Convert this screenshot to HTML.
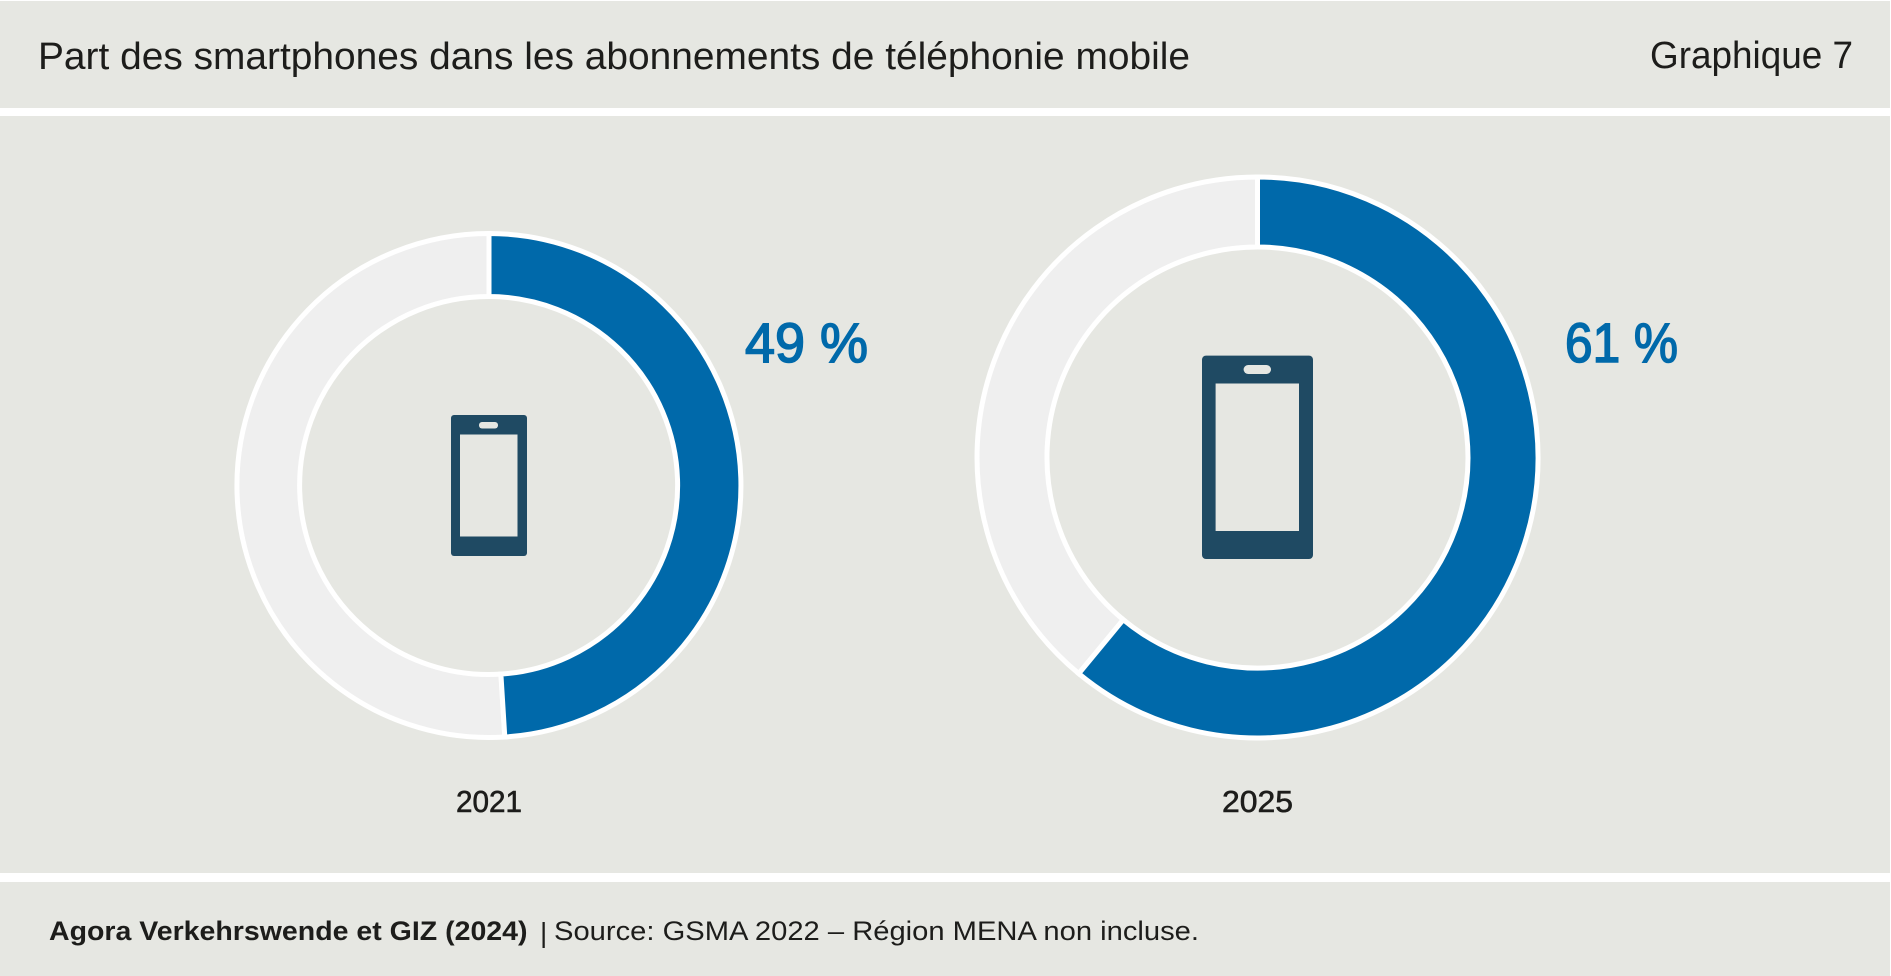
<!DOCTYPE html>
<html>
<head>
<meta charset="utf-8">
<style>
html,body{margin:0;padding:0;background:#ffffff;}
svg{display:block;}
text{font-family:"Liberation Sans", sans-serif;}
</style>
</head>
<body>
<svg width="1891" height="976" viewBox="0 0 1891 976" xmlns="http://www.w3.org/2000/svg">
  <rect x="0" y="0" width="1891" height="976" fill="#ffffff"/>
  <!-- panels -->
  <rect x="0" y="1" width="1890" height="107" fill="#e6e7e2"/>
  <rect x="0" y="116" width="1890" height="757" fill="#e6e7e2"/>
  <rect x="0" y="882" width="1890" height="94" fill="#e6e7e2"/>

  <!-- header -->
  <text x="38" y="69" font-size="38" fill="#1d1d1b" textLength="1152" lengthAdjust="spacingAndGlyphs">Part des smartphones dans les abonnements de téléphonie mobile</text>
  <text x="1650" y="68" font-size="38" fill="#1d1d1b" textLength="203" lengthAdjust="spacingAndGlyphs">Graphique 7</text>

  <!-- donut 1 (49%) -->
  <path d="M504.8,737.0 A252,252 0 1 1 489,233.5 L489,296.5 A189,189 0 1 0 500.9,674.1 Z" fill="#efefef" stroke="#ffffff" stroke-width="5" stroke-linejoin="miter"/>
  <path d="M489,233.5 A252,252 0 0 1 504.8,737.0 L500.9,674.1 A189,189 0 0 0 489,296.5 Z" fill="#0069aa" stroke="#ffffff" stroke-width="5" stroke-linejoin="miter"/>

  <!-- phone 1 -->
  <rect x="451" y="415" width="76" height="141" rx="3" fill="#1f4a63"/>
  <rect x="460" y="434.5" width="57.5" height="102" fill="#e6e7e2"/>
  <rect x="479" y="422" width="19" height="6.5" rx="3" fill="#e6e7e2"/>

  <!-- donut 2 (61%) -->
  <path d="M1078.7,673.6 A280.5,280.5 0 0 1 1257.5,177 L1257.5,247 A210.5,210.5 0 0 0 1123.3,619.7 Z" fill="#efefef" stroke="#ffffff" stroke-width="5" stroke-linejoin="miter"/>
  <path d="M1257.5,177 A280.5,280.5 0 1 1 1078.7,673.6 L1123.3,619.7 A210.5,210.5 0 1 0 1257.5,247 Z" fill="#0069aa" stroke="#ffffff" stroke-width="5" stroke-linejoin="miter"/>

  <!-- phone 2 -->
  <rect x="1202" y="355.6" width="111" height="203.4" rx="4" fill="#1f4a63"/>
  <rect x="1215.6" y="383.5" width="83.4" height="147.5" fill="#e6e7e2"/>
  <rect x="1243.6" y="365" width="27.4" height="9" rx="4.5" fill="#e6e7e2"/>

  <!-- value labels -->
  <text x="745" y="362" font-size="56" fill="#0069aa" stroke="#0069aa" stroke-width="1.6" textLength="123" lengthAdjust="spacingAndGlyphs">49 %</text>
  <text x="1565" y="362" font-size="56" fill="#0069aa" stroke="#0069aa" stroke-width="1.6" textLength="113" lengthAdjust="spacingAndGlyphs">61 %</text>

  <!-- year labels -->
  <text x="456" y="812" font-size="31" fill="#1d1d1b" stroke="#1d1d1b" stroke-width="0.6" textLength="66" lengthAdjust="spacingAndGlyphs">2021</text>
  <text x="1222" y="812" font-size="31" fill="#1d1d1b" stroke="#1d1d1b" stroke-width="0.6" textLength="71" lengthAdjust="spacingAndGlyphs">2025</text>

  <!-- footer -->
  <text x="49" y="940" font-size="26.5" font-weight="bold" fill="#1d1d1b" textLength="478.5" lengthAdjust="spacingAndGlyphs">Agora Verkehrswende et GIZ (2024)</text>
  <text x="540" y="942" font-size="28" fill="#1d1d1b">|</text>
  <text x="554" y="940" font-size="26.5" fill="#1d1d1b" textLength="645" lengthAdjust="spacingAndGlyphs">Source: GSMA 2022 – Région MENA non incluse.</text>
</svg>
</body>
</html>
